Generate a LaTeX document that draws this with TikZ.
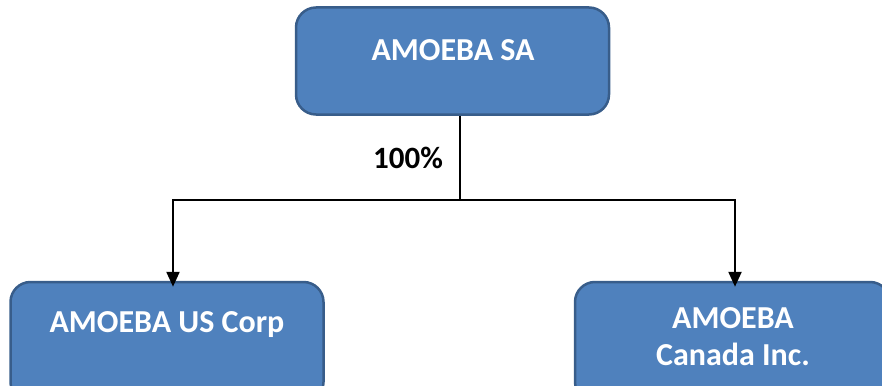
\documentclass[tikz,border=0pt]{standalone}
\usepackage{fontspec}
\setmainfont{Carlito}
\usetikzlibrary{arrows.meta}
\definecolor{boxfill}{HTML}{4F81BD}
\definecolor{boxline}{HTML}{385D8A}
\begin{document}
\begin{tikzpicture}[x=1pt,y=-1pt,
  entity/.style={draw=boxline, line width=2.5pt, fill=boxfill,
    rounded corners=20pt, minimum width=313pt, inner sep=0pt},
  ename/.style={text=white, font=\bfseries\fontsize{32}{37}\selectfont,
    align=center, inner sep=0pt},
  rail/.style={line width=2.3pt},
  link/.style={line width=2.3pt, -{Triangle[width=13pt,length=15pt]},
    shorten >=-6pt}]
\useasboundingbox (0,0) rectangle (882,385);
\clip (0,0) rectangle (882,385);

% parent company
\node[entity, minimum height=107pt] (sa) at (452.5,61) {};
\node[ename] (saname) at (453,50) {AMOEBA SA};

% subsidiaries
\node[entity, minimum height=120pt] (us) at (167,342) {};
\node[ename] (usname) at (167,325) {AMOEBA US Corp};
\node[entity, minimum height=120pt, minimum width=315pt] (ca) at (732.5,342) {};
\node[ename] (caname) at (733,336.5) {AMOEBA\\Canada Inc.};

% ownership connectors
\coordinate (j) at (460,200);
\draw[rail] ([xshift=7.5pt]sa.south) -- (j);
\draw[link] (j) -| ([xshift=6pt]us.north);
\draw[link] (j) -| ([xshift=2.5pt]ca.north);

\node[font=\bfseries\fontsize{31}{36}\selectfont, inner sep=0pt] (share) at (408,158) {100\%};
\end{tikzpicture}
\end{document}
